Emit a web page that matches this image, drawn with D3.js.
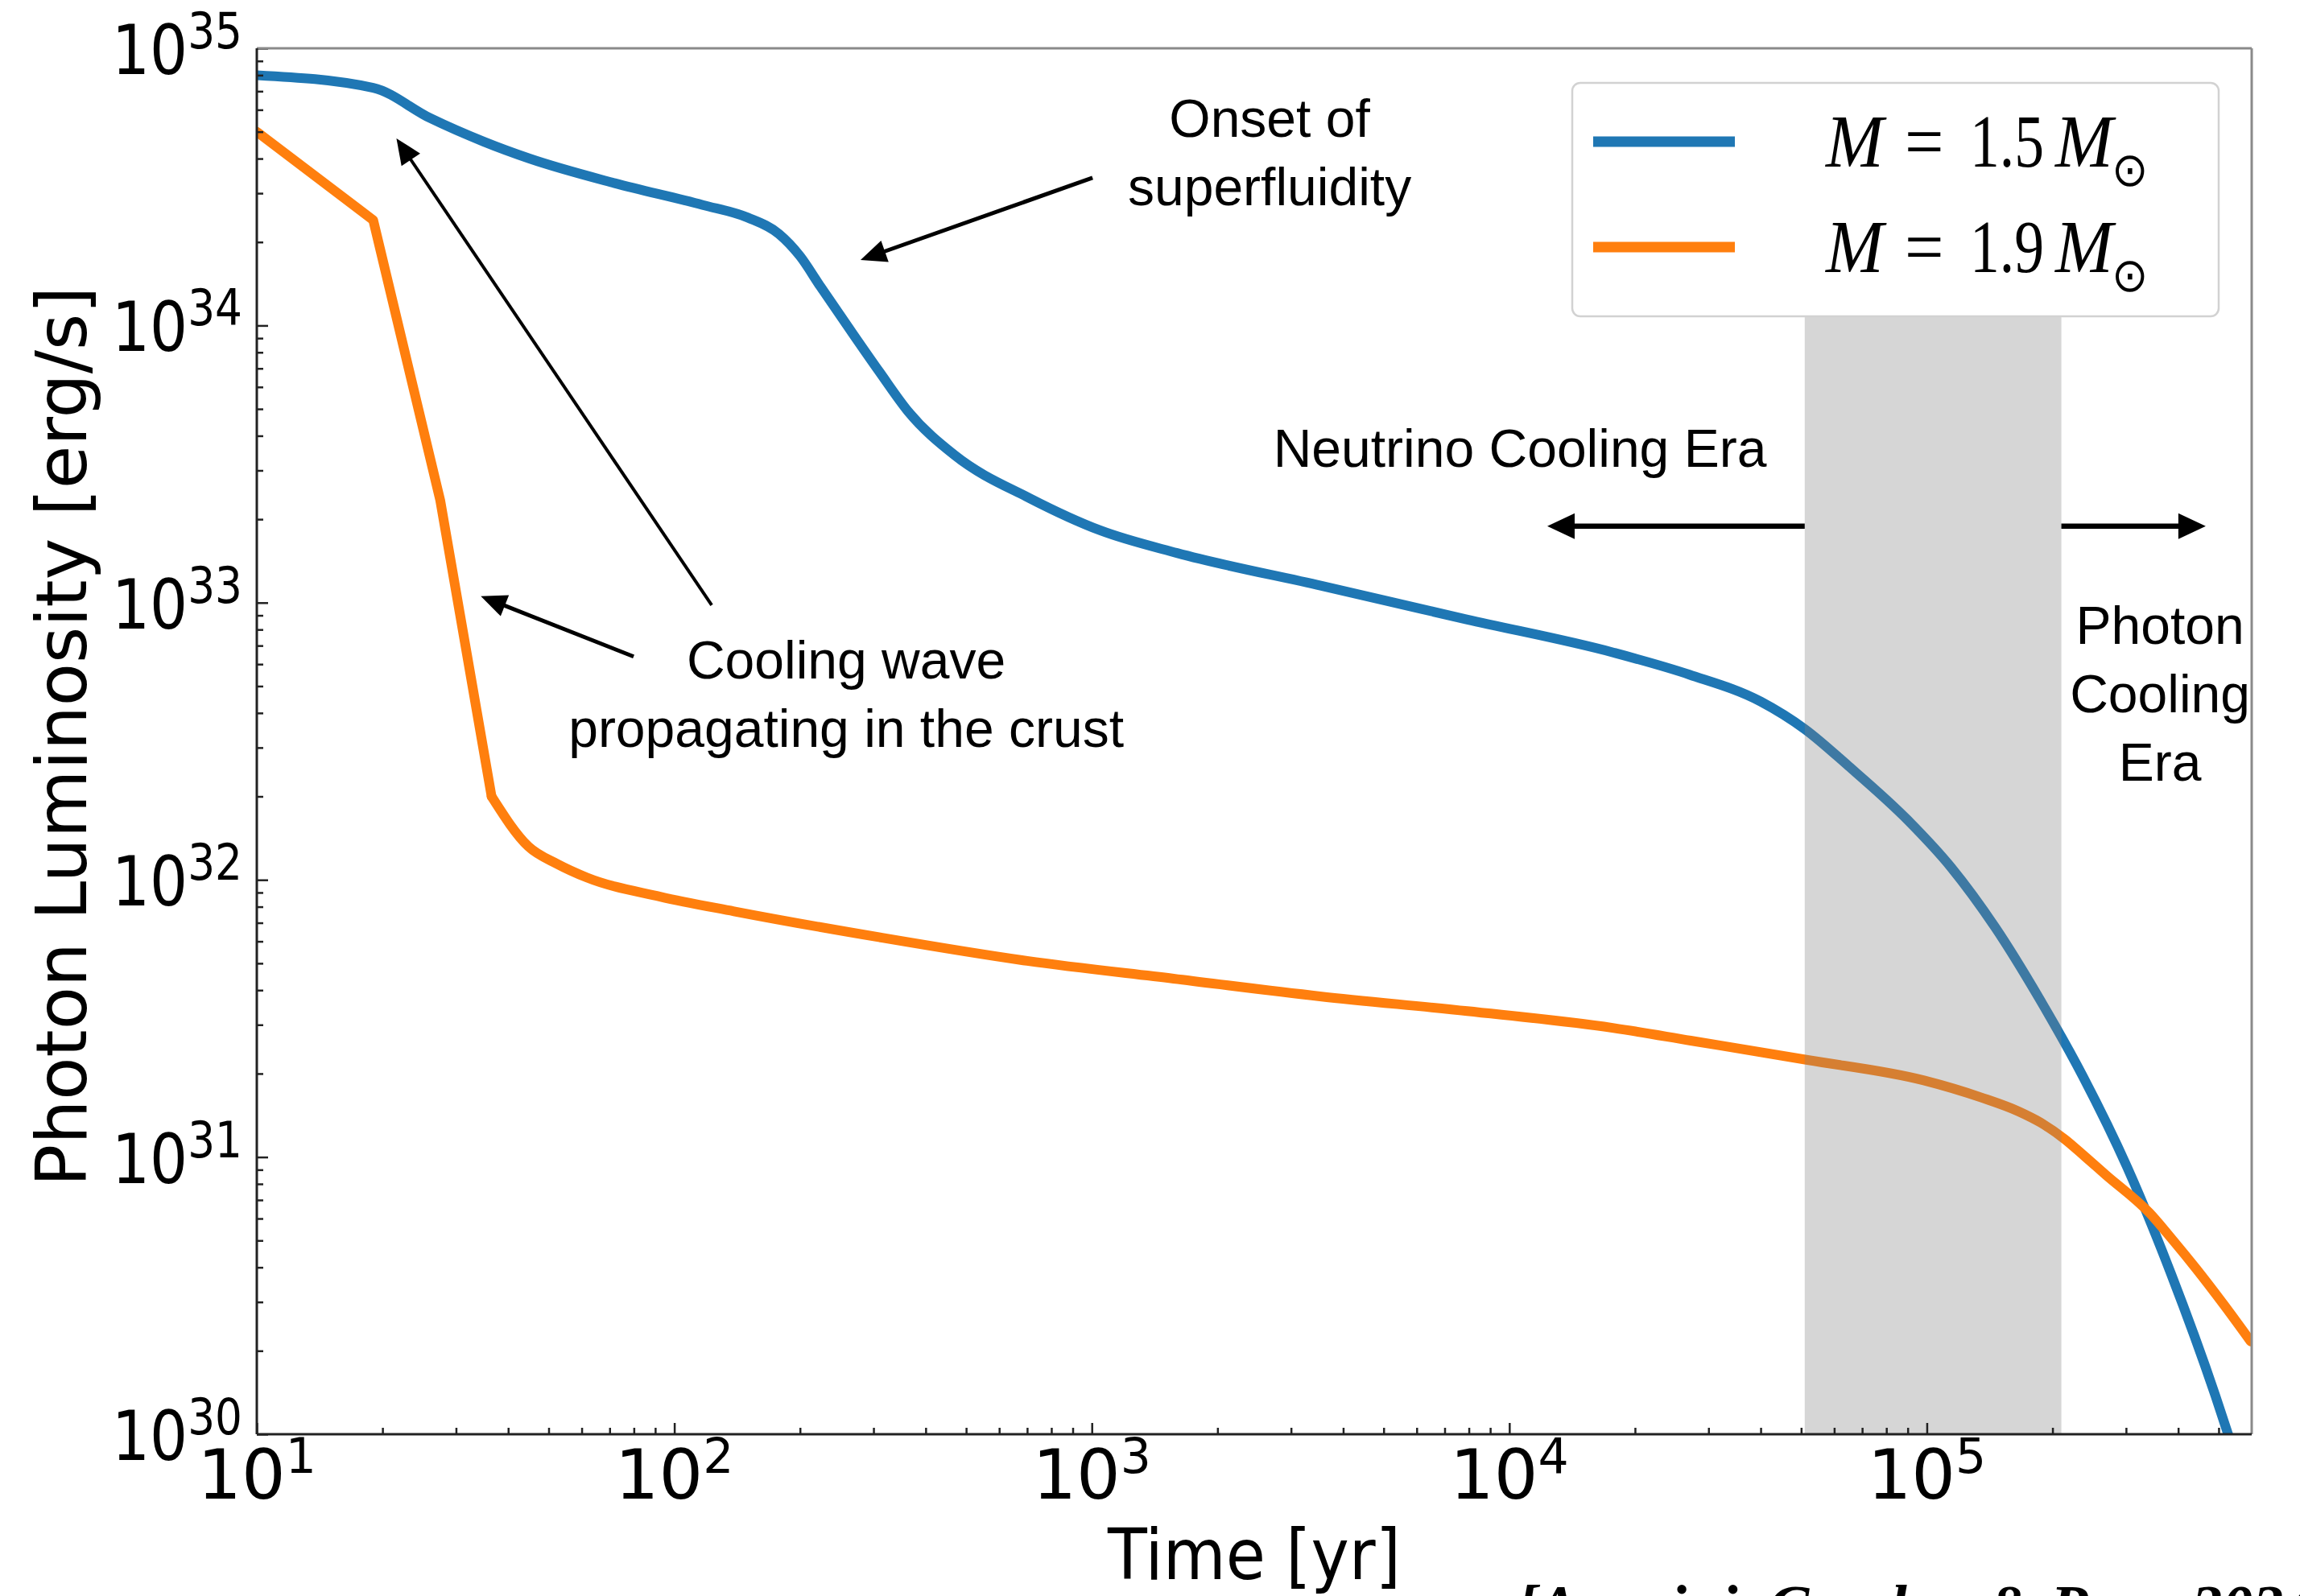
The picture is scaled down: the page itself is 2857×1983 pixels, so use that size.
<!DOCTYPE html>
<html>
<head>
<meta charset="utf-8">
<script src="https://cdn.jsdelivr.net/npm/d3@7"></script>
<style>
  html, body { margin: 0; padding: 0; background: #ffffff; }
  svg { display: block; }
</style>
</head>
<body>
<svg id="chart" width="2857" height="1983"></svg>
<script>
// Photon luminosity of a cooling neutron star versus age, for two stellar masses.

// ---- data ----
const timeLight = [10, 19, 26, 35, 45, 72, 117, 150, 178, 200, 224, 263, 310, 363, 470, 710,
                   1050, 1600, 3550, 7900, 17800, 27000, 40000, 51000, 65000, 89750,
                   114300, 145900, 185800, 237100, 302000, 384600, 490900, 532100];
const lumLight  = [8.0e34, 7.2e34, 5.6e34, 4.6e34, 4.0e34, 3.26e34, 2.72e34, 2.45e34, 2.14e34, 1.78e34,
                   1.38e34, 9.7e33, 6.8e33, 4.9e33, 3.4e33, 2.38e33, 1.82e33, 1.51e33, 1.15e33, 8.7e32,
                   6.6e32, 5.5e32, 4.4e32, 3.5e32, 2.57e32, 1.65e32, 1.11e32, 6.73e31, 3.74e31, 1.94e31,
                   9.18e30, 3.79e30, 1.38e30, 9.55e29];

const timeHeavy = [10, 19, 27.5, 36.5, 44.7, 52.5, 61.7, 92.5, 139, 311, 700, 1570, 3520, 7930,
                   17800, 27200, 51800, 98400, 135000, 166000, 187500, 214000, 240000, 269000,
                   341000, 389000, 442000, 513000, 597000];
const lumHeavy  = [5.0e34, 2.4e34, 2.34e33, 2.0e32, 1.32e32, 1.14e32, 1.02e32, 8.7e31, 7.7e31, 6.2e31,
                   5.1e31, 4.4e31, 3.8e31, 3.36e31, 2.92e31, 2.63e31, 2.24e31, 1.89e31, 1.64e31, 1.46e31,
                   1.33e31, 1.16e31, 1.0e31, 8.6e30, 6.3e30, 5.0e30, 3.95e30, 2.95e30, 2.16e30];
// the heavy star's curve is piecewise straight up to this sample, smooth afterwards
const heavyKinkIndex = 3;

const massValues = ["1.5", "1.9"];
const seriesColors = ["#1f77b4", "#ff7f0e"];

const xMajorTicks = [1e1, 1e2, 1e3, 1e4, 1e5];
const yMajorTicks = [1e30, 1e31, 1e32, 1e33, 1e34, 1e35];

// transition band between the neutrino and photon cooling eras
const transitionBand = [5.1e4, 2.1e5];
const transitionBandTop = 1.1e34;

// annotation text, anchored at (time, luminosity)
const notes = [
  { lines: ["Onset of", "superfluidity"], t: 2666, L: 4.79e34 },
  { lines: ["Cooling wave", "propagating in the crust"], t: 258, L: 5.33e32 },
  { lines: ["Neutrino Cooling Era"], t: 10604, L: 3.09e33 },
  { lines: ["Photon", "Cooling", "Era"], t: 361900, L: 7.11e32 }
];

// arrows: tail (t0, L0) -> head (t1, L1)
const pointers = [
  { t0: 1004,  L0: 3.41e34, t1: 279.3, L1: 1.724e34, w: 5 },
  { t0: 79.9,  L0: 6.39e32, t1: 34.4,  L1: 1.055e33, w: 5 },
  { t0: 122.9, L0: 9.8e32,  t1: 21.6,  L1: 4.73e34,  w: 4 },
  { t0: transitionBand[0], L0: 1.887e33, t1: 12330,  L1: 1.887e33, w: 6.5 },
  { t0: transitionBand[1], L0: 1.887e33, t1: 465600, L1: 1.887e33, w: 6.5 }
];

const citation = "[Anzuini, Cumber & Page 2024]";

// ---- layout ----
const plot = { left: 319, right: 2797, top: 60, bottom: 1782 };

const svg = d3.select("#chart");
svg.append("rect").attr("width", 2857).attr("height", 1983).attr("fill", "#ffffff");

const x = d3.scaleLog().domain([10, 6e5]).range([plot.left, plot.right]);
const y = d3.scaleLog().domain([1e30, 1e35]).range([plot.bottom, plot.top]);

function minorTicks(scale) {
  const [d0, d1] = scale.domain();
  const out = [];
  for (let e = Math.floor(Math.log10(d0)); e <= Math.ceil(Math.log10(d1)); e++) {
    for (let k = 2; k <= 9; k++) {
      const v = k * Math.pow(10, e);
      if (v > d0 && v < d1 * 0.999) out.push(v);
    }
  }
  return out;
}

svg.append("defs").append("clipPath").attr("id", "plotClip")
  .append("rect")
  .attr("x", plot.left).attr("y", plot.top)
  .attr("width", plot.right - plot.left).attr("height", plot.bottom - plot.top);

// ---- curves ----
const lightData = timeLight.map((t, i) => ({ t, L: lumLight[i] }));
const heavyData = timeHeavy.map((t, i) => ({ t, L: lumHeavy[i] }));

const curves = svg.append("g").attr("clip-path", "url(#plotClip)")
  .attr("fill", "none").attr("stroke-width", 12)
  .attr("stroke-linejoin", "round");

const lineOf = curve => d3.line().x(d => x(d.t)).y(d => y(d.L)).curve(curve);

curves.append("path")
  .datum(lightData)
  .attr("stroke", seriesColors[0])
  .attr("d", lineOf(d3.curveMonotoneX));

curves.append("path")
  .datum(heavyData.slice(0, heavyKinkIndex + 1))
  .attr("stroke", seriesColors[1])
  .attr("stroke-linecap", "round")
  .attr("d", lineOf(d3.curveLinear));
curves.append("path")
  .datum(heavyData.slice(heavyKinkIndex))
  .attr("stroke", seriesColors[1])
  .attr("stroke-linecap", "round")
  .attr("d", lineOf(d3.curveMonotoneX));

// ---- translucent band over the curves ----
svg.append("rect")
  .attr("x", x(transitionBand[0]))
  .attr("width", x(transitionBand[1]) - x(transitionBand[0]))
  .attr("y", y(transitionBandTop))
  .attr("height", plot.bottom - y(transitionBandTop))
  .attr("fill", "#808080")
  .attr("opacity", 0.32);

// ---- ticks (pointing inward) ----
function styleTicks(g) {
  g.select(".domain").remove();
  g.selectAll(".tick line").attr("stroke", "#222").attr("stroke-width", 2.5);
}
svg.append("g").attr("transform", `translate(0,${plot.bottom})`)
  .call(d3.axisBottom(x).tickValues(xMajorTicks).tickSize(-14).tickFormat(""))
  .call(styleTicks);
svg.append("g").attr("transform", `translate(0,${plot.bottom})`)
  .call(d3.axisBottom(x).tickValues(minorTicks(x)).tickSize(-8).tickFormat(""))
  .call(styleTicks);
svg.append("g").attr("transform", `translate(${plot.left},0)`)
  .call(d3.axisLeft(y).tickValues(yMajorTicks).tickSize(-14).tickFormat(""))
  .call(styleTicks);
svg.append("g").attr("transform", `translate(${plot.left},0)`)
  .call(d3.axisLeft(y).tickValues(minorTicks(y)).tickSize(-8).tickFormat(""))
  .call(styleTicks);

// ---- spines ----
const spines = svg.append("g").attr("fill", "none").attr("stroke-width", 3);
spines.append("line").attr("x1", plot.left).attr("x2", plot.right).attr("y1", plot.top).attr("y2", plot.top).attr("stroke", "#8a8a8a");
spines.append("line").attr("x1", plot.right).attr("x2", plot.right).attr("y1", plot.top).attr("y2", plot.bottom).attr("stroke", "#8a8a8a");
spines.append("line").attr("x1", plot.left).attr("x2", plot.right).attr("y1", plot.bottom).attr("y2", plot.bottom).attr("stroke", "#222");
spines.append("line").attr("x1", plot.left).attr("x2", plot.left).attr("y1", plot.top).attr("y2", plot.bottom).attr("stroke", "#222");

// ---- tick labels: 10^n ----
const expOf = v => Math.round(Math.log10(v));

svg.append("g").selectAll("text").data(xMajorTicks).join("text")
  .attr("x", d => x(d)).attr("y", 1862)
  .attr("text-anchor", "middle")
  .attr("font-family", "DejaVu Sans").attr("font-size", 86).attr("fill", "#000")
  .each(function (d) {
    const t = d3.select(this);
    t.append("tspan").text("10");
    t.append("tspan").attr("font-size", 60).attr("dy", -32).text(expOf(d));
  });

svg.append("g").selectAll("text").data(yMajorTicks).join("text")
  .attr("transform", d => `translate(301,${y(d)}) scale(0.86,1)`)
  .attr("y", 32)
  .attr("text-anchor", "end")
  .attr("font-family", "DejaVu Sans").attr("font-size", 86).attr("fill", "#000")
  .each(function (d) {
    const t = d3.select(this);
    t.append("tspan").text("10");
    t.append("tspan").attr("font-size", 62).attr("dy", -32).text(expOf(d));
  });

// ---- axis titles ----
svg.append("text")
  .attr("transform", `translate(${(plot.left + plot.right) / 2},1962) scale(1,1.1)`)
  .attr("text-anchor", "middle")
  .attr("font-family", "DejaVu Sans").attr("font-size", 80).attr("fill", "#000")
  .text("Time [yr]");

svg.append("text")
  .attr("transform", `translate(107,${(plot.top + plot.bottom) / 2 - 6}) rotate(-90)`)
  .attr("text-anchor", "middle")
  .attr("font-family", "DejaVu Sans").attr("font-size", 87).attr("fill", "#000")
  .text("Photon Luminosity [erg/s]");

// ---- legend ----
const legend = svg.append("g");
legend.append("rect")
  .attr("x", 1953).attr("y", 103).attr("width", 803).attr("height", 290)
  .attr("rx", 10).attr("ry", 10)
  .attr("fill", "#ffffff").attr("stroke", "#d2d2d2").attr("stroke-width", 2.5);

massValues.forEach((m, i) => {
  const cy = 176 + i * 131;
  legend.append("line")
    .attr("x1", 1979).attr("x2", 2155).attr("y1", cy).attr("y2", cy)
    .attr("stroke", seriesColors[i]).attr("stroke-width", 13);
  const txt = legend.append("text")
    .attr("transform", `translate(0,${cy + 31}) scale(1,1.09)`)
    .attr("font-family", "Liberation Serif").attr("font-size", 86).attr("fill", "#000");
  txt.append("tspan").attr("x", 2268).attr("font-style", "italic").text("M");
  txt.append("tspan").attr("x", 2366).text("=");
  txt.append("tspan").attr("x", 2447)
    .attr("textLength", 92).attr("lengthAdjust", "spacingAndGlyphs").text(m);
  txt.append("tspan").attr("x", 2553).attr("font-style", "italic").text("M");
  txt.append("tspan").attr("x", 2623).attr("dy", 22).attr("font-family", "DejaVu Sans")
    .attr("font-size", 54).text("\u2299");
});

// ---- annotations ----
const noteG = svg.append("g")
  .attr("font-family", "Liberation Sans").attr("font-size", 66).attr("fill", "#000")
  .attr("text-anchor", "middle");
notes.forEach(n => {
  n.lines.forEach((line, k) => {
    noteG.append("text")
      .attr("x", x(n.t)).attr("y", y(n.L) + k * 85)
      .text(line);
  });
});

// ---- arrows ----
const arrowG = svg.append("g");
pointers.forEach(p => {
  const x0 = x(p.t0), y0 = y(p.L0), x1 = x(p.t1), y1 = y(p.L1);
  const dx = x1 - x0, dy = y1 - y0, len = Math.hypot(dx, dy);
  const ux = dx / len, uy = dy / len;
  const headLen = p.w > 6 ? 34 : 32, headHalf = p.w > 6 ? 16 : 14;
  const bx = x1 - ux * headLen, by = y1 - uy * headLen;
  arrowG.append("line")
    .attr("x1", x0).attr("y1", y0).attr("x2", bx + ux * 3).attr("y2", by + uy * 3)
    .attr("stroke", "#000").attr("stroke-width", p.w);
  arrowG.append("path")
    .attr("d", `M${x1},${y1}L${bx - uy * headHalf},${by + ux * headHalf}L${bx + uy * headHalf},${by - ux * headHalf}Z`)
    .attr("fill", "#000");
});

// ---- source line ----
svg.append("text")
  .attr("x", 1884).attr("y", 2022)
  .attr("font-family", "Liberation Serif").attr("font-size", 76)
  .attr("font-style", "italic").attr("font-weight", "bold").attr("fill", "#000")
  .text(citation);
</script>
</body>
</html>
